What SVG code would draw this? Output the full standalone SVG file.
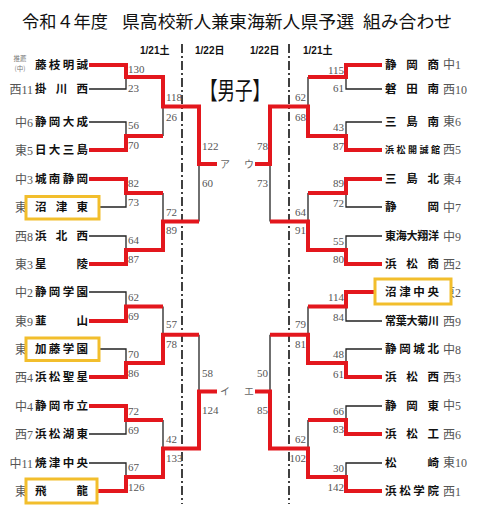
<svg xmlns="http://www.w3.org/2000/svg" width="480" height="505" viewBox="0 0 480 505">
<style>
.title{font-family:"Noto Sans CJK JP",sans-serif;font-size:17.5px;fill:#111}
.date{font-family:"Liberation Sans","Noto Sans CJK JP",sans-serif;font-size:10px;font-weight:bold;fill:#111}
.name{font-family:"Noto Sans CJK JP",sans-serif;font-size:11.5px;font-weight:bold;fill:#111}
.seed{font-family:"Liberation Serif","Noto Sans CJK JP",serif;font-size:12px;fill:#555}
.score{font-family:"Liberation Serif",serif;font-size:11px;fill:#555}
.mark{font-family:"Noto Sans CJK JP",sans-serif;font-size:10px;fill:#666}
.red{fill:none;stroke:#e3171d;stroke-width:4}
.blk{fill:none;stroke:#222;stroke-width:1.3}
.dash{fill:none;stroke:#111;stroke-width:1.6;stroke-dasharray:9 3 2 3}
.box{fill:#fff;stroke:#f2be2c;stroke-width:3}
</style>
<rect width="480" height="505" fill="#fff"/>
<g id="title">
<text class="title" x="22" y="27.5" textLength="86" lengthAdjust="spacingAndGlyphs">令和４年度</text>
<text class="title" x="122" y="27.5" textLength="232" lengthAdjust="spacingAndGlyphs">県高校新人兼東海新人県予選</text>
<text class="title" x="363" y="27.5" textLength="89" lengthAdjust="spacingAndGlyphs">組み合わせ</text>
</g>
<g id="dates">
<text class="date" x="140" y="54">1/21土</text>
<text class="date" x="195" y="54">1/22日</text>
<text class="date" x="250" y="54">1/22日</text>
<text class="date" x="303" y="54">1/21土</text>
</g>
<g id="dividers">
<line class="dash" x1="182" y1="44" x2="182" y2="504"/>
<line class="dash" x1="289" y1="44" x2="289" y2="504"/>
</g>
<text x="200" y="99" textLength="70" lengthAdjust="spacingAndGlyphs" style="font-family:'Noto Sans CJK JP',sans-serif;font-size:24px;fill:#111">【男子】</text>

<g id="connectors">
<g id="black-lines">
<path class="blk" d="M89,89H126V77"/>
<path class="blk" d="M89,122H126V136"/>
<path class="blk" d="M89,207H126V193"/>
<path class="blk" d="M89,236H126V250"/>
<path class="blk" d="M89,292H126V306.5"/>
<path class="blk" d="M89,349H126V363"/>
<path class="blk" d="M89,434H126V420"/>
<path class="blk" d="M89,463H126V477"/>
<path class="blk" d="M163,136V106.5"/>
<path class="blk" d="M163,193V221.5"/>
<path class="blk" d="M163,306.5V334.75"/>
<path class="blk" d="M163,420V448.5"/>
<path class="blk" d="M199,221.5V164"/>
<path class="blk" d="M199,334.75V391.6"/>
<path class="blk" d="M382,89H346V77"/>
<path class="blk" d="M382,122H346V136"/>
<path class="blk" d="M382,207H346V193"/>
<path class="blk" d="M382,236H346V250"/>
<path class="blk" d="M382,321H346V306.5"/>
<path class="blk" d="M382,349H346V363"/>
<path class="blk" d="M382,406H346V420"/>
<path class="blk" d="M382,463H346V477"/>
<path class="blk" d="M308,77V106.5"/>
<path class="blk" d="M308,193V221.5"/>
<path class="blk" d="M308,306.5V334.75"/>
<path class="blk" d="M308,420V448.5"/>
<path class="blk" d="M270,221.5V164"/>
<path class="blk" d="M270,334.75V391.6"/>
</g>
<g id="red-lines">
<path class="red" d="M89,65H126V77H163V106.5H199V164H217"/>
<path class="red" d="M89,150H126V136H163"/>
<path class="red" d="M89,179H126V193H163"/>
<path class="red" d="M89,264H126V250H163V221.5H199"/>
<path class="red" d="M89,321H126V306.5H163"/>
<path class="red" d="M89,377H126V363H163V334.75H199"/>
<path class="red" d="M89,406H126V420H163"/>
<path class="red" d="M89,491H126V477H163V448.5H199V391.6H217"/>
<path class="red" d="M382,65H346V77H308"/>
<path class="red" d="M382,150H346V136H308V106.5H270V164H255"/>
<path class="red" d="M382,179H346V193H308"/>
<path class="red" d="M382,264H346V250H308V221.5H270"/>
<path class="red" d="M382,292H346V306.5H308"/>
<path class="red" d="M382,377H346V363H308V334.75H270"/>
<path class="red" d="M382,434H346V420H308"/>
<path class="red" d="M382,491H346V477H308V448.5H270V391.6H255"/>
</g>
<g id="scores">
<text class="score" x="128" y="73">130</text>
<text class="score" x="128" y="92">23</text>
<text class="score" x="128" y="129">56</text>
<text class="score" x="128" y="149">70</text>
<text class="score" x="128" y="187">82</text>
<text class="score" x="128" y="206">73</text>
<text class="score" x="128" y="244">64</text>
<text class="score" x="128" y="263">87</text>
<text class="score" x="128" y="301">62</text>
<text class="score" x="128" y="320">69</text>
<text class="score" x="128" y="358">70</text>
<text class="score" x="128" y="377">86</text>
<text class="score" x="128" y="415">72</text>
<text class="score" x="128" y="434">69</text>
<text class="score" x="128" y="471">67</text>
<text class="score" x="128" y="491">126</text>
<text class="score" x="166" y="101">118</text>
<text class="score" x="166" y="121">26</text>
<text class="score" x="166" y="216">72</text>
<text class="score" x="166" y="234">89</text>
<text class="score" x="166" y="328">57</text>
<text class="score" x="166" y="348">78</text>
<text class="score" x="166" y="443">42</text>
<text class="score" x="166" y="462">133</text>
<text class="score" x="202" y="150">122</text>
<text class="score" x="202" y="187">60</text>
<text class="score" x="202" y="377">58</text>
<text class="score" x="202" y="414">124</text>
<g text-anchor="end">
<text class="score" x="344" y="74">115</text>
<text class="score" x="344" y="92">61</text>
<text class="score" x="344" y="131">43</text>
<text class="score" x="344" y="150">87</text>
<text class="score" x="344" y="187">89</text>
<text class="score" x="344" y="207">72</text>
<text class="score" x="344" y="245">55</text>
<text class="score" x="344" y="263">80</text>
<text class="score" x="344" y="301">114</text>
<text class="score" x="344" y="321">84</text>
<text class="score" x="344" y="358">48</text>
<text class="score" x="344" y="378">61</text>
<text class="score" x="344" y="415">66</text>
<text class="score" x="344" y="433">83</text>
<text class="score" x="344" y="472">30</text>
<text class="score" x="344" y="491">142</text>
<text class="score" x="306" y="101">62</text>
<text class="score" x="306" y="121">68</text>
<text class="score" x="306" y="216">64</text>
<text class="score" x="306" y="234">91</text>
<text class="score" x="306" y="328">79</text>
<text class="score" x="306" y="348">81</text>
<text class="score" x="306" y="443">62</text>
<text class="score" x="306" y="462">102</text>
<text class="score" x="268" y="150">78</text>
<text class="score" x="268" y="187">73</text>
<text class="score" x="268" y="377">50</text>
<text class="score" x="268" y="414">85</text>
</g>
<text class="mark" x="220" y="168">ア</text>
<text class="mark" x="220" y="395">イ</text>
<text class="mark" x="244" y="168">ウ</text>
<text class="mark" x="244" y="395">エ</text>
</g>
</g>

<g id="left-teams">
<g id="t-fujieda-meisei"><text x="20" y="61" text-anchor="middle" style="font-family:'Noto Sans CJK JP',sans-serif;font-size:6.5px;fill:#777">推薦</text><text x="20" y="71" text-anchor="middle" style="font-family:'Noto Sans CJK JP',sans-serif;font-size:6.5px;fill:#777">(中)</text><text class="name" x="35" y="69" textLength="53">藤枝明誠</text></g>
<g id="t-kakegawa-nishi"><text class="seed" x="33" y="93.5" text-anchor="end">西11</text><text class="name" x="35" y="93" textLength="53">掛川西</text></g>
<g id="t-shizuoka-taisei"><text class="seed" x="33" y="126.5" text-anchor="end">中6</text><text class="name" x="35" y="126" textLength="53">静岡大成</text></g>
<g id="t-nichidai-mishima"><text class="seed" x="33" y="154.5" text-anchor="end">東5</text><text class="name" x="35" y="154" textLength="53">日大三島</text></g>
<g id="t-jonan-shizuoka"><text class="seed" x="33" y="183.5" text-anchor="end">中3</text><text class="name" x="35" y="183" textLength="53">城南静岡</text></g>
<g id="t-numazu-higashi"><text class="seed" x="33" y="211.5" text-anchor="end">東8</text><rect class="box" x="26" y="196.5" width="73" height="22.5"/><text class="name" x="35" y="211" textLength="53">沼津東</text></g>
<g id="t-hamakita-nishi"><text class="seed" x="33" y="240.5" text-anchor="end">西8</text><text class="name" x="35" y="240" textLength="53">浜北西</text></g>
<g id="t-seiryo"><text class="seed" x="33" y="268.5" text-anchor="end">東3</text><text class="name" x="35" y="268" textLength="53">星陵</text></g>
<g id="t-shizuoka-gakuen"><text class="seed" x="33" y="296.5" text-anchor="end">中2</text><text class="name" x="35" y="296" textLength="53">静岡学園</text></g>
<g id="t-nirayama"><text class="seed" x="33" y="325.5" text-anchor="end">東9</text><text class="name" x="35" y="325" textLength="53">韮山</text></g>
<g id="t-kato-gakuen"><text class="seed" x="33" y="353.5" text-anchor="end">東7</text><rect class="box" x="26" y="338" width="73" height="22.5"/><text class="name" x="35" y="353" textLength="53">加藤学園</text></g>
<g id="t-hamamatsu-seisei"><text class="seed" x="33" y="381.5" text-anchor="end">西4</text><text class="name" x="35" y="381" textLength="53">浜松聖星</text></g>
<g id="t-shizuoka-shiritsu"><text class="seed" x="33" y="410.5" text-anchor="end">中4</text><text class="name" x="35" y="410" textLength="53">静岡市立</text></g>
<g id="t-hamamatsu-kotou"><text class="seed" x="33" y="438.5" text-anchor="end">西7</text><text class="name" x="35" y="438" textLength="53">浜松湖東</text></g>
<g id="t-yaizu-chuo"><text class="seed" x="33" y="467.5" text-anchor="end">中11</text><text class="name" x="35" y="467" textLength="53">焼津中央</text></g>
<g id="t-hiryu"><text class="seed" x="33" y="495.5" text-anchor="end">東1</text><rect class="box" x="26" y="479" width="71" height="24"/><text class="name" x="35" y="495" textLength="53">飛龍</text></g>
</g>

<g id="right-teams">
<g id="t-shizuoka-sho"><text class="name" x="385" y="68.5" textLength="54">静岡商</text><text class="seed" x="443" y="69">中1</text></g>
<g id="t-iwata-minami"><text class="name" x="385" y="93" textLength="54">磐田南</text><text class="seed" x="443" y="93.5">西10</text></g>
<g id="t-mishima-minami"><text class="name" x="385" y="125.5" textLength="54">三島南</text><text class="seed" x="443" y="126">東6</text></g>
<g id="t-hamamatsu-kaiseikan"><text class="name" x="385" y="153" textLength="55" style="font-size:9px">浜松開誠館</text><text class="seed" x="443" y="154">西5</text></g>
<g id="t-mishima-kita"><text class="name" x="385" y="183" textLength="54">三島北</text><text class="seed" x="443" y="183.5">東4</text></g>
<g id="t-shizuoka"><text class="name" x="385" y="211" textLength="54">静岡</text><text class="seed" x="443" y="211.5">中7</text></g>
<g id="t-tokai-shoyo"><text class="name" x="385" y="240" textLength="54" style="font-size:11px">東海大翔洋</text><text class="seed" x="443" y="240.5">中9</text></g>
<g id="t-hamamatsu-sho"><text class="name" x="385" y="268" textLength="54">浜松商</text><text class="seed" x="443" y="268.5">西2</text></g>
<g id="t-numazu-chuo"><text class="seed" x="443" y="296.5">東2</text><rect class="box" x="375" y="279" width="76" height="25"/><text class="name" x="385" y="296" textLength="54">沼津中央</text></g>
<g id="t-tokoha-kikugawa"><text class="name" x="385" y="325" textLength="54" style="font-size:11px">常葉大菊川</text><text class="seed" x="443" y="325.5">西9</text></g>
<g id="t-shizuoka-johoku"><text class="name" x="385" y="353" textLength="54">静岡城北</text><text class="seed" x="443" y="353.5">中8</text></g>
<g id="t-hamamatsu-nishi"><text class="name" x="385" y="381" textLength="54">浜松西</text><text class="seed" x="443" y="381.5">西3</text></g>
<g id="t-shizuoka-higashi"><text class="name" x="385" y="409.5" textLength="54">静岡東</text><text class="seed" x="443" y="410">中5</text></g>
<g id="t-hamamatsu-ko"><text class="name" x="385" y="438" textLength="54">浜松工</text><text class="seed" x="443" y="438.5">西6</text></g>
<g id="t-matsuzaki"><text class="name" x="385" y="466.5" textLength="54">松崎</text><text class="seed" x="443" y="467">東10</text></g>
<g id="t-hamamatsu-gakuin"><text class="name" x="385" y="495" textLength="54">浜松学院</text><text class="seed" x="443" y="495.5">西1</text></g>
</g>
</svg>
